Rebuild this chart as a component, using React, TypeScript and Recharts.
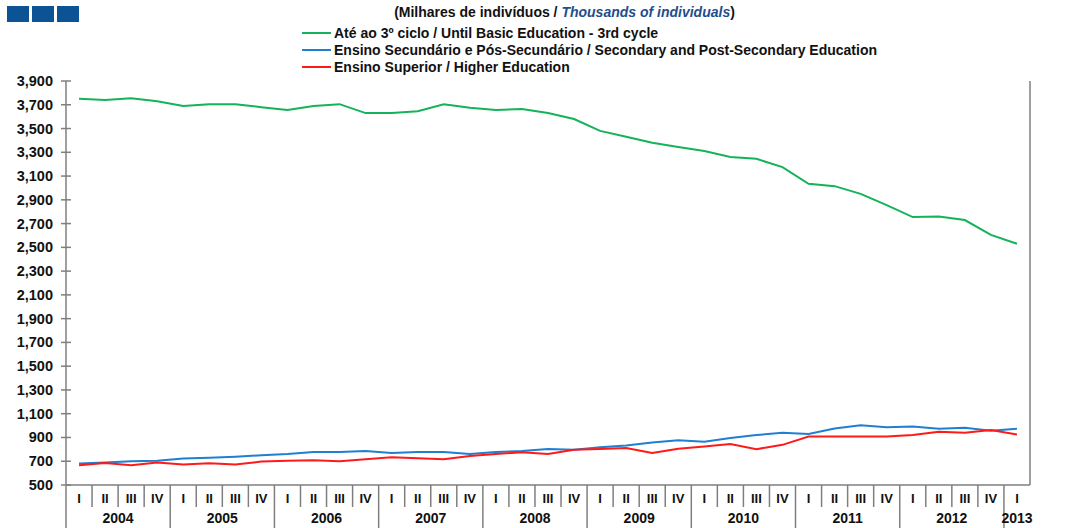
import { LineChart, Line, XAxis, YAxis } from 'recharts'

const periods = [
  '2004 I', '2004 II', '2004 III', '2004 IV',
  '2005 I', '2005 II', '2005 III', '2005 IV',
  '2006 I', '2006 II', '2006 III', '2006 IV',
  '2007 I', '2007 II', '2007 III', '2007 IV',
  '2008 I', '2008 II', '2008 III', '2008 IV',
  '2009 I', '2009 II', '2009 III', '2009 IV',
  '2010 I', '2010 II', '2010 III', '2010 IV',
  '2011 I', '2011 II', '2011 III', '2011 IV',
  '2012 I', '2012 II', '2012 III', '2012 IV',
  '2013 I',
]

const basic = [
  3750, 3740, 3755, 3730, 3690, 3705, 3705, 3680, 3655, 3690, 3705, 3630,
  3630, 3645, 3705, 3675, 3655, 3665, 3630, 3580, 3480, 3430, 3380, 3345,
  3310, 3260, 3245, 3175, 3035, 3015, 2950, 2855, 2755, 2760, 2730, 2605,
  2530,
]

const secondary = [
  681, 690, 700, 705, 722, 730, 738, 750, 761, 777, 777, 786,
  769, 777, 777, 761, 777, 786, 802, 797, 817, 833, 858, 876,
  864, 895, 920, 940, 929, 976, 1002, 985, 993, 974, 982, 957,
  974,
]

const higher = [
  667, 686, 667, 690, 672, 683, 672, 697, 705, 708, 700, 717,
  733, 725, 717, 744, 761, 775, 761, 797, 802, 811, 769, 805,
  824, 844, 802, 838, 908, 908, 908, 908, 920, 948, 940, 963,
  925,
]

const yTicks = [500, 700, 900, 1100, 1300, 1500, 1700, 1900, 2100, 2300, 2500, 2700, 2900, 3100, 3300, 3500, 3700, 3900]

const series = [
  { key: 'basic', name: 'Até ao 3º ciclo / Until Basic Education - 3rd cycle', color: '#14b35a' },
  { key: 'secondary', name: 'Ensino Secundário e Pós-Secundário / Secondary and Post-Secondary Education', color: '#1f7fd0' },
  { key: 'higher', name: 'Ensino Superior / Higher Education', color: '#ff1a1a' },
]

const data = periods.map((p, i) => ({
  period: p,
  basic: basic[i],
  secondary: secondary[i],
  higher: higher[i],
}))

const W = 1081
const H = 528
const LEFT_W = 66
const RIGHT_W = 51
const TOP = 81
const XAXIS_H = 43
const BAND = (W - LEFT_W - RIGHT_W) / periods.length
const AXIS = '#7f7f7f'
const FONT = '"Liberation Sans", Arial, sans-serif'

const fmt = (v: number) => v.toLocaleString('en-US')

function LeftTick({ x, y, payload }: any) {
  return (
    <g>
      <line x1={x - 5} x2={x + 5} y1={y} y2={y} stroke={AXIS} strokeWidth={1.5} />
      <text x={x - 13} y={y} dy={5} textAnchor="end" fontSize={14.5} fontWeight="bold" fill="#111">
        {fmt(payload.value)}
      </text>
    </g>
  )
}

function RightTick({ x, y, payload }: any) {
  return (
    <g>
      <line x1={x - 5} x2={x + 5} y1={y} y2={y} stroke={AXIS} strokeWidth={1.5} />
      <text x={x + 13} y={y} dy={5} textAnchor="start" fontSize={14.5} fontWeight="bold" fill="#111">
        {fmt(payload.value)}
      </text>
    </g>
  )
}

function PeriodTick({ x, y, payload }: any) {
  const [year, q] = String(payload.value).split(' ')
  const left = x - BAND / 2
  const n = periods.filter((p) => p.startsWith(year)).length
  return (
    <g>
      <line x1={left} x2={left} y1={y} y2={q === 'I' ? H : y + 22} stroke={AXIS} strokeWidth={1.5} />
      <text x={x} y={y + 18} textAnchor="middle" fontSize={13} fontWeight="bold" fill="#111">
        {q}
      </text>
      {q === 'I' && (
        <text x={left + (n * BAND) / 2} y={y + 38} textAnchor="middle" fontSize={14} fontWeight="bold" fill="#111">
          {year}
        </text>
      )}
    </g>
  )
}

export default function App() {
  return (
    <div style={{ position: 'absolute', left: 0, top: 0, width: W, height: H, background: '#fff', fontFamily: FONT }}>
      <div style={{ position: 'absolute', left: 7, top: 6, display: 'flex', gap: 3 }}>
        {[0, 1, 2].map((i) => (
          <div key={i} style={{ width: 22, height: 16, background: '#0b5394' }} />
        ))}
      </div>
      <div
        style={{
          position: 'absolute', left: 0, width: W, top: 4, textAlign: 'center',
          fontSize: 14, fontWeight: 'bold', color: '#111', paddingLeft: 48, boxSizing: 'border-box',
        }}
      >
        (Milhares de indivíduos / <i style={{ color: '#1f4e8c' }}>Thousands of individuals</i>)
      </div>
      <div style={{ position: 'absolute', left: 302, top: 25 }}>
        {series.map((s) => (
          <div key={s.key} style={{ display: 'flex', alignItems: 'center', height: 16.7 }}>
            <div style={{ width: 29, height: 2, background: s.color, marginRight: 3 }} />
            <span style={{ fontSize: 14, fontWeight: 'bold', color: '#111', whiteSpace: 'nowrap' }}>{s.name}</span>
          </div>
        ))}
      </div>
      <LineChart
        width={W}
        height={H}
        data={data}
        margin={{ top: TOP, right: 0, bottom: 0, left: 0 }}
        style={{ fontFamily: FONT }}
      >
        <XAxis
          dataKey="period"
          interval={0}
          height={XAXIS_H}
          padding={{ left: BAND / 2, right: BAND / 2 }}
          tickSize={0}
          tickMargin={0}
          tickLine={false}
          stroke={AXIS}
          strokeWidth={1.5}
          tick={<PeriodTick />}
        />
        <YAxis
          yAxisId="left"
          orientation="left"
          width={LEFT_W}
          domain={[500, 3900]}
          ticks={yTicks}
          interval={0}
          tickSize={0}
          tickMargin={0}
          tickLine={false}
          stroke={AXIS}
          strokeWidth={1.5}
          tick={<LeftTick />}
        />
        <YAxis
          yAxisId="right"
          orientation="right"
          width={RIGHT_W}
          domain={[500, 3900]}
          ticks={yTicks}
          interval={0}
          tickSize={0}
          tickMargin={0}
          tickLine={false}
          stroke={AXIS}
          strokeWidth={1.5}
          tick={<RightTick />}
        />
        {series.map((s) => (
          <Line
            key={s.key}
            yAxisId="left"
            type="linear"
            dataKey={s.key}
            name={s.name}
            stroke={s.color}
            strokeWidth={2}
            dot={false}
            isAnimationActive={false}
          />
        ))}
      </LineChart>
    </div>
  )
}
